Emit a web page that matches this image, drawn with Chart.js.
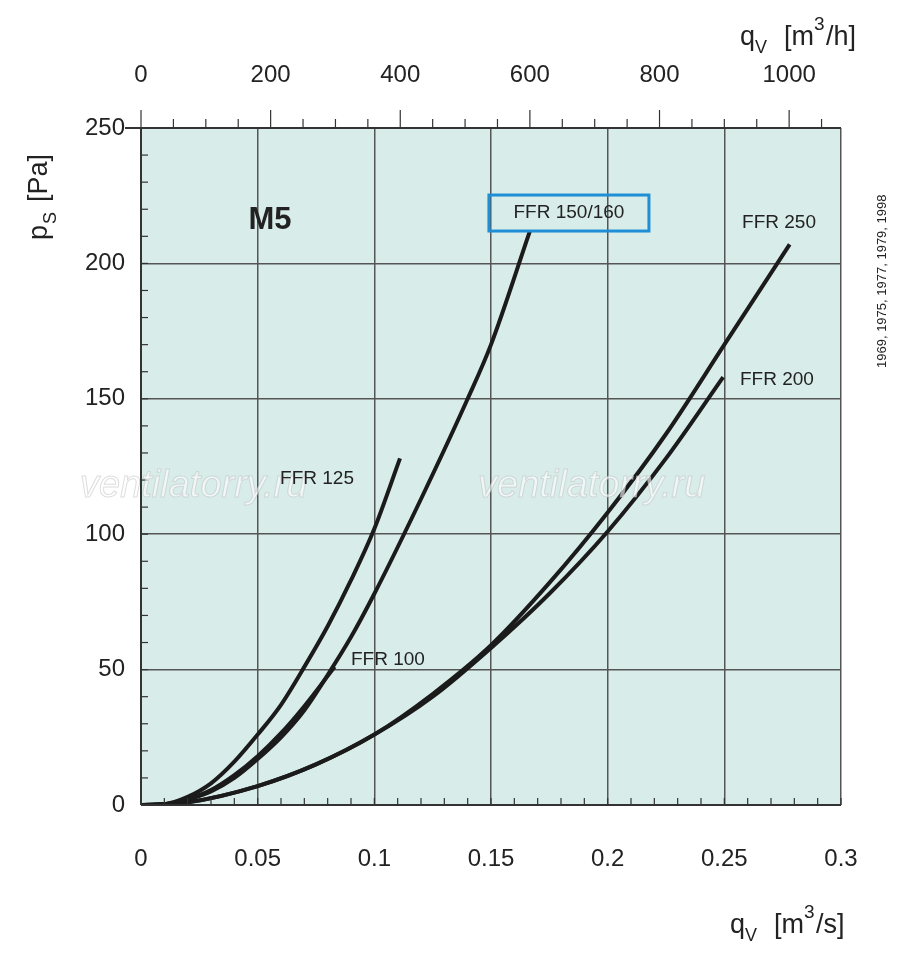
<!DOCTYPE html>
<html>
<head>
<meta charset="utf-8">
<script src="https://cdn.jsdelivr.net/npm/chart.js@4.4.1/dist/chart.umd.min.js"></script>
<style>
  body { margin: 0; background: #fff; }
  #wrap { width: 900px; height: 963px; }
</style>
</head>
<body>
<div id="wrap"><canvas id="c" width="900" height="963"></canvas></div>
<script>
// flow [m3/s] and static pressure [Pa]
const ffr125 = [[0,0],[0.01,0.3],[0.02,3],[0.03,8],[0.04,16],[0.05,26],[0.06,37],[0.07,51],[0.08,66],[0.09,83],[0.1,102],[0.111,128]];
const ffr150 = [[0,0],[0.01,0.3],[0.02,2],[0.03,5],[0.04,10],[0.05,17],[0.06,25],[0.07,35],[0.08,48],[0.09,62],[0.1,78],[0.12,113],[0.14,150],[0.15,170],[0.1667,212]];
const ffr100 = [[0,0],[0.01,0.3],[0.02,2.2],[0.03,5.5],[0.04,11],[0.05,18],[0.06,26.5],[0.07,36.5],[0.083,51]];
const ffr250 = [[0,0],[0.02,1],[0.05,7],[0.075,15],[0.1,26],[0.125,41],[0.15,59],[0.175,82],[0.2,108],[0.225,137],[0.25,170],[0.278,207]];
const ffr200 = [[0,0],[0.02,1],[0.05,7],[0.075,15],[0.1,26],[0.125,40],[0.15,58],[0.175,78],[0.2,101],[0.225,128],[0.2495,158]];

const xTicks = [0, 0.05, 0.1, 0.15, 0.2, 0.25, 0.3];
const yTicks = [0, 50, 100, 150, 200, 250];
const topTicks = [0, 200, 400, 600, 800, 1000];

const curveLabels = [
  { text: 'FFR 125', x: 0.0596, y: 120.5 },
  { text: 'FFR 100', x: 0.090, y: 53.5 },
  { text: 'FFR 150/160', x: 0.1834, y: 218.6, box: true },
  { text: 'FFR 250', x: 0.2576, y: 215 },
  { text: 'FFR 200', x: 0.2567, y: 157 }
];

const FONT = '"Liberation Sans", Arial, sans-serif';

function toPts(arr) { return arr.map(p => ({ x: p[0], y: p[1] })); }
function line(data) {
  return { data: toPts(data), borderColor: '#1b1b1b', borderWidth: 4, pointRadius: 0, tension: 0.4, cubicInterpolationMode: 'monotone', fill: false };
}

const decor = {
  id: 'decor',
  beforeDraw(chart) {
    const { ctx, chartArea: a } = chart;
    ctx.save();
    ctx.fillStyle = '#d8ecea';
    ctx.fillRect(a.left, a.top, a.right - a.left, a.bottom - a.top);
    ctx.restore();
  },
  afterDatasetsDraw(chart) {
    const { ctx, chartArea: a, scales } = chart;
    const xs = scales.x, ys = scales.y, xt = scales.xTop;
    ctx.save();
    // minor ticks
    ctx.strokeStyle = '#333'; ctx.lineWidth = 1.2;
    for (let v = 0; v <= 0.3001; v += 0.01) {
      const px = xs.getPixelForValue(v);
      ctx.beginPath(); ctx.moveTo(px, a.bottom); ctx.lineTo(px, a.bottom - 7); ctx.stroke();
    }
    for (let v = 0; v <= 250; v += 10) {
      const py = ys.getPixelForValue(v);
      ctx.beginPath(); ctx.moveTo(a.left, py); ctx.lineTo(a.left + 7, py); ctx.stroke();
    }
    for (let v = 0; v <= 1080; v += 50) {
      const px = xt.getPixelForValue(v);
      const len = v % 200 === 0 ? 18 : 9;
      ctx.beginPath(); ctx.moveTo(px, a.top); ctx.lineTo(px, a.top - len); ctx.stroke();
    }
    // border lines
    ctx.strokeStyle = '#333'; ctx.lineWidth = 2;
    ctx.beginPath(); ctx.moveTo(a.left, a.top); ctx.lineTo(a.right, a.top); ctx.stroke();
    ctx.beginPath(); ctx.moveTo(a.left, a.bottom); ctx.lineTo(a.right, a.bottom); ctx.stroke();
    ctx.beginPath(); ctx.moveTo(a.left, a.top); ctx.lineTo(a.left, a.bottom); ctx.stroke();
    ctx.beginPath(); ctx.moveTo(a.left - 16, a.top); ctx.lineTo(a.left, a.top); ctx.stroke();

    // watermark
    ctx.font = 'italic 38px ' + FONT;
    ctx.fillStyle = 'rgba(255,255,255,0.6)';
    ctx.strokeStyle = 'rgba(190,190,190,0.5)';
    ctx.lineWidth = 1;
    ctx.textBaseline = 'middle';
    ['80', '478'].forEach(x => {
      ctx.fillText('ventilatorry.ru', +x, 486);
      ctx.strokeText('ventilatorry.ru', +x, 486);
    });

    // curve labels
    ctx.fillStyle = '#222';
    ctx.font = '19px ' + FONT;
    curveLabels.forEach(l => {
      const px = xs.getPixelForValue(l.x), py = ys.getPixelForValue(l.y);
      if (l.box) {
        ctx.textAlign = 'center';
        ctx.fillText(l.text, px, py);
        const w = ctx.measureText(l.text).width;
        ctx.strokeStyle = '#1e8fd6'; ctx.lineWidth = 3;
        ctx.strokeRect(px - 80, py - 18, 160, 36);
      } else {
        ctx.textAlign = 'left';
        ctx.fillText(l.text, px, py);
      }
    });
    ctx.textAlign = 'center';
    ctx.font = 'bold 31px ' + FONT;
    ctx.fillText('M5', xs.getPixelForValue(0.0553), ys.getPixelForValue(216));

    // axis titles
    ctx.textAlign = 'left';
    function qv(x, y, unit) {
      ctx.font = '27px ' + FONT; ctx.fillText('q', x, y);
      ctx.font = '18px ' + FONT; ctx.fillText('V', x + 15, y + 10);
      ctx.font = '27px ' + FONT; ctx.fillText('[m', x + 44, y);
      let w = ctx.measureText('[m').width;
      ctx.font = '19px ' + FONT; ctx.fillText('3', x + 44 + w, y - 13);
      ctx.font = '27px ' + FONT; ctx.fillText(unit, x + 56 + w, y);
    }
    qv(740, 38, '/h]');
    qv(730, 926, '/s]');
    ctx.save();
    ctx.translate(40, 240); ctx.rotate(-Math.PI / 2);
    ctx.font = '27px ' + FONT; ctx.fillText('p', 0, 0);
    ctx.font = '18px ' + FONT; ctx.fillText('S', 16, 11);
    ctx.font = '27px ' + FONT; ctx.fillText('[Pa]', 38, 0);
    ctx.restore();
    ctx.save();
    ctx.translate(882, 368); ctx.rotate(-Math.PI / 2);
    ctx.font = '13px ' + FONT; ctx.fillText('1969, 1975, 1977, 1979, 1998', 0, 0);
    ctx.restore();
    ctx.restore();
  }
};

new Chart(document.getElementById('c'), {
  type: 'line',
  data: { datasets: [line(ffr125), line(ffr150), line(ffr100), line(ffr250), line(ffr200)] },
  options: {
    responsive: false,
    animation: false,
    layout: { padding: { right: 59 } },
    plugins: { legend: { display: false }, tooltip: { enabled: false } },
    scales: {
      x: {
        type: 'linear', min: 0, max: 0.3, position: 'bottom',
        afterBuildTicks: s => { s.ticks = xTicks.map(v => ({ value: v })); },
        afterFit: s => { s.height = 158; },
        grid: { color: '#555', lineWidth: 1.5, drawTicks: false },
        border: { display: false },
        ticks: { color: '#222', font: { size: 24, family: FONT }, padding: 40, callback: v => String(v) }
      },
      xTop: {
        type: 'linear', min: 0, max: 1080, position: 'top',
        afterBuildTicks: s => { s.ticks = topTicks.map(v => ({ value: v })); },
        afterFit: s => { s.height = 128; },
        grid: { drawOnChartArea: false, drawTicks: false },
        border: { display: false },
        ticks: { color: '#222', font: { size: 24, family: FONT }, padding: 38, callback: v => String(v) }
      },
      y: {
        type: 'linear', min: 0, max: 250,
        afterBuildTicks: s => { s.ticks = yTicks.map(v => ({ value: v })); },
        afterFit: s => { s.width = 141; },
        grid: { color: '#555', lineWidth: 1.5, drawTicks: false },
        border: { display: false },
        ticks: { color: '#222', font: { size: 24, family: FONT }, padding: 16 }
      }
    }
  },
  plugins: [decor]
});
</script>
</body>
</html>
